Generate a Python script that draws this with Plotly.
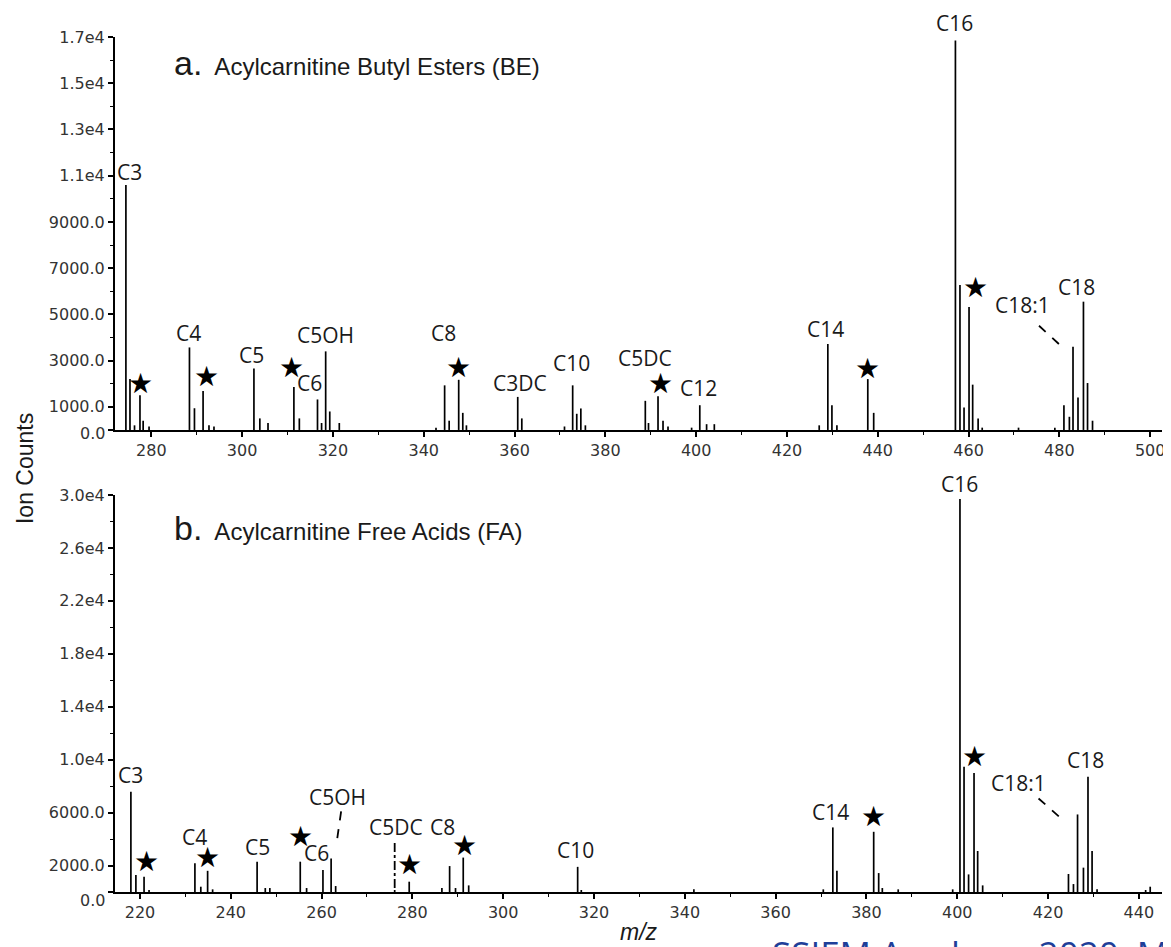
import plotly.graph_objects as go

# ---------------- data ----------------
be_mz = [274.4, 275.3, 276.3, 277.5, 278.2, 279.5, 288.4, 289.5, 291.4, 292.7, 293.8,
         302.6, 303.9, 305.7, 311.4, 312.6, 316.6, 317.5, 318.4, 319.3, 321.4,
         342.7, 344.6, 345.6, 347.7, 348.6, 349.4, 360.7, 361.6, 371.0, 372.8, 373.7,
         374.6, 375.6, 388.8, 389.5, 391.6, 392.7, 393.8, 399.0, 400.8, 402.3, 404.0,
         427.1, 429.0, 429.9, 431.0, 437.8, 439.1, 457.1, 458.1, 459.0, 460.1, 460.9,
         462.1, 463.0, 471.0, 479.0, 481.0, 482.2, 483.0, 484.1, 485.3, 486.2, 487.3]
be_int = [10600, 2200, 200, 1500, 400, 150, 3570, 940, 1690, 200, 150,
          2660, 500, 300, 1860, 500, 1320, 300, 3400, 800, 300,
          100, 1930, 400, 2170, 740, 200, 1430, 500, 150, 1930, 700,
          930, 200, 1260, 300, 1460, 400, 150, 100, 1070, 250, 250,
          200, 3720, 1070, 200, 2200, 740, 16850, 6270, 970, 5320, 1960,
          500, 100, 100, 100, 1070, 570, 3600, 1400, 5550, 2030, 400]

fa_mz = [218.0, 219.1, 220.9, 222.0, 232.1, 233.4, 234.9, 236.0, 245.8, 247.6, 248.6,
         255.3, 256.7, 260.3, 262.1, 263.1, 276.1, 279.3, 286.5, 288.2, 289.5, 291.2,
         292.4, 316.4, 317.2, 342.0, 370.5, 372.6, 373.5, 381.6, 382.7, 383.5, 387.0,
         399.0, 400.6, 401.5, 402.5, 403.7, 404.5, 405.6, 424.5, 425.6, 426.5, 427.8,
         428.8, 429.7, 430.8, 441.5, 442.5]
fa_int = [7570, 1280, 1160, 150, 2170, 400, 1600, 200, 2290, 300, 300,
          2290, 300, 1660, 2540, 450, 150, 780, 300, 1960, 300, 2600,
          500, 1900, 150, 200, 200, 4880, 1600, 4550, 1430, 300, 200,
          200, 29700, 9460, 1330, 9000, 3100, 500, 1360, 600, 5860, 1840,
          8700, 3100, 200, 150, 400]

be_labels = ["C3", "C4", "C5", "C6", "C5OH", "C8", "C3DC", "C10", "C5DC", "C12",
             "C14", "C16", "C18:1", "C18"]
be_label_mz = [274.4, 288.4, 302.6, 316.6, 318.4, 344.6, 360.7, 372.8, 388.8, 400.8,
               429.0, 457.1, 483.0, 485.3]
be_star_mz = [277.5, 291.4, 311.4, 347.7, 391.6, 437.8, 460.1]

fa_labels = ["C3", "C4", "C5", "C6", "C5OH", "C5DC", "C8", "C10", "C14", "C16",
             "C18:1", "C18"]
fa_label_mz = [218.0, 232.1, 245.8, 260.3, 262.1, 276.1, 288.2, 316.4, 372.6, 400.6,
               426.5, 428.8]
fa_star_mz = [220.9, 234.9, 255.3, 279.3, 291.2, 381.6, 403.7]

be_ticks = [0, 1000, 3000, 5000, 7000, 9000, 11000, 13000, 15000, 17000]
be_ticktext = ["", "1000.0", "3000.0", "5000.0", "7000.0", "9000.0",
               "1.1e4", "1.3e4", "1.5e4", "1.7e4"]
fa_ticks = [0, 2000, 6000, 10000, 14000, 18000, 22000, 26000, 30000]
fa_ticktext = ["", "2000.0", "6000.0", "1.0e4", "1.4e4", "1.8e4",
               "2.2e4", "2.6e4", "3.0e4"]

# ---------------- layout (pixel offsets, styles) ----------------
be_label_off = [(4, 13), (-1, 14), (-2, 13), (-8, 16), (0, 16), (-1, 52), (2, 14),
                (-1, 22), (0, 43), (-1, 17), (-2, 15), (-1, 17), (-51, 42), (-7, 15)]
be_star_off = [(1, 12), (3, 14), (-2, 19), (0, 12), (2, 13), (0, 11), (6, 19)]
fa_label_off = [(0, 17), (0, 26), (0, 15), (-6, 17), (6, 61), (1, 63), (-7, 39),
                (-2, 17), (-2, 15), (0, 15), (-59, 31), (-2, 17)]
fa_star_off = [(2, 15), (0, 13), (0, 25), (0, 17), (1, 12), (0, 15), (0, 16)]

LABEL_FONT = dict(family="Open Sans", size=21, color="#1a1a1a")
TICK_FONT = dict(family="DejaVu Sans", size=16, color="#333333")
STAR_FONT = dict(family="DejaVu Sans", size=28, color="black")


def sticks(mz, inten):
    xs, ys = [], []
    for m, v in zip(mz, inten):
        xs += [m, m, None]
        ys += [0, v, None]
    return xs, ys


fig = go.Figure()
x1, y1 = sticks(be_mz, be_int)
fig.add_trace(go.Scatter(x=x1, y=y1, mode="lines", line=dict(color="black", width=1.7),
                         xaxis="x", yaxis="y", showlegend=False, hoverinfo="skip"))
x2, y2 = sticks(fa_mz, fa_int)
fig.add_trace(go.Scatter(x=x2, y=y2, mode="lines", line=dict(color="black", width=1.7),
                         xaxis="x2", yaxis="y2", showlegend=False, hoverinfo="skip"))

ann = []


def peak_val(mz_list, int_list, m):
    return int_list[mz_list.index(m)]


for lab, m, (dx, dy) in zip(be_labels, be_label_mz, be_label_off):
    ann.append(dict(x=m, y=peak_val(be_mz, be_int, m), xref="x", yref="y", text=lab,
                    showarrow=False, xshift=dx, yshift=dy, font=LABEL_FONT,
                    xanchor="center", yanchor="middle"))
for m, (dx, dy) in zip(be_star_mz, be_star_off):
    ann.append(dict(x=m, y=peak_val(be_mz, be_int, m), xref="x", yref="y", text="★",
                    showarrow=False, xshift=dx, yshift=dy, font=STAR_FONT,
                    xanchor="center", yanchor="middle"))
for lab, m, (dx, dy) in zip(fa_labels, fa_label_mz, fa_label_off):
    ann.append(dict(x=m, y=peak_val(fa_mz, fa_int, m), xref="x2", yref="y2", text=lab,
                    showarrow=False, xshift=dx, yshift=dy, font=LABEL_FONT,
                    xanchor="center", yanchor="middle"))
for m, (dx, dy) in zip(fa_star_mz, fa_star_off):
    ann.append(dict(x=m, y=peak_val(fa_mz, fa_int, m), xref="x2", yref="y2", text="★",
                    showarrow=False, xshift=dx, yshift=dy, font=STAR_FONT,
                    xanchor="center", yanchor="middle"))

# zero labels (drawn slightly below the baseline, as in the original)
ann.append(dict(x=0, y=0, xref="paper", yref="y", text="0.0", showarrow=False,
                xanchor="right", yanchor="middle", xshift=-8, yshift=-4, font=TICK_FONT))
ann.append(dict(x=0, y=0, xref="paper", yref="y2", text="0.0", showarrow=False,
                xanchor="right", yanchor="middle", xshift=-8, yshift=-8, font=TICK_FONT))

# panel titles
ann.append(dict(x=0.054, y=0.935, xref="paper", yref="y domain",
                text='<span style="font-size:34px">a.</span>&nbsp; Acylcarnitine Butyl Esters (BE)',
                showarrow=False, xanchor="left", yanchor="middle",
                font=dict(family="Liberation Sans", size=24, color="#1a1a1a")))
ann.append(dict(x=0.054, y=0.917, xref="paper", yref="y2 domain",
                text='<span style="font-size:34px">b.</span>&nbsp; Acylcarnitine Free Acids (FA)',
                showarrow=False, xanchor="left", yanchor="middle",
                font=dict(family="Liberation Sans", size=24, color="#1a1a1a")))
# axis titles
ann.append(dict(x=-0.0857, y=0.495, xref="paper", yref="paper", text="Ion Counts",
                textangle=-90, showarrow=False, xanchor="center", yanchor="middle",
                font=dict(family="Liberation Sans", size=23, color="#1a1a1a")))
ann.append(dict(x=0.5, y=-0.047, xref="paper", yref="paper", text="<i>m/z</i>",
                showarrow=False, xanchor="center", yanchor="middle",
                font=dict(family="Liberation Sans", size=23, color="#1a1a1a")))
# watermark at bottom edge (cut off in the original)
ann.append(dict(x=0.626, y=-0.0425, xref="paper", yref="paper", text="SSIEM Academy 2020, M",
                showarrow=False, xanchor="left", yanchor="top",
                font=dict(family="Open Sans", size=35, color="#1f3f99")))

# dashed leader lines, anchored to peaks, offsets in pixels
shapes = []


def leader(xr, yr, m, v, x0, y0, x1_, y1_, dash="dash"):
    return dict(type="line", xref=xr, yref=yr, xsizemode="pixel", ysizemode="pixel",
                xanchor=m, yanchor=v, x0=x0, y0=y0, x1=x1_, y1=y1_,
                line=dict(color="black", width=1.8, dash=dash))


shapes.append(leader("x", "y", 483.0, peak_val(be_mz, be_int, 483.0), -34, 21, -9, -2))
shapes.append(leader("x2", "y2", 426.5, peak_val(fa_mz, fa_int, 426.5), -39, 16, -13, -7))
shapes.append(leader("x2", "y2", 262.1, peak_val(fa_mz, fa_int, 262.1), 10, 47, 5, 12))
shapes.append(leader("x2", "y2", 276.1, peak_val(fa_mz, fa_int, 276.1), 0, 47, 0, 0, "dashdot"))

axis_common = dict(showline=True, linecolor="black", linewidth=2, ticks="outside",
                   ticklen=5, tickwidth=1.5, tickcolor="black", tickfont=TICK_FONT,
                   showgrid=False, zeroline=False, ticklabeloverflow="allow")

# the page body adds an 8px margin, so the figure is 8px smaller and shifted
fig.update_layout(
    width=1163, height=939,
    margin=dict(l=107, r=6, t=29, b=55),
    paper_bgcolor="white", plot_bgcolor="white",
    showlegend=False,
    xaxis=dict(domain=[0, 1], anchor="y", range=[272, 502.6], tickmode="linear",
               tick0=280, dtick=20,
               minor=dict(tickmode="linear", tick0=270, dtick=10, ticklen=3,
                          tickcolor="black", tickwidth=1.2, ticks="outside"),
               **axis_common),
    yaxis=dict(domain=[0.5404, 1], anchor="x", range=[0, 17000], tickmode="array",
               tickvals=be_ticks, ticktext=be_ticktext,
               minor=dict(tickmode="linear", tick0=0, dtick=1000, ticklen=3,
                          tickcolor="black", tickwidth=1.2, ticks="outside"),
               **axis_common),
    xaxis2=dict(domain=[0, 1], anchor="y2", range=[214.5, 445.1], tickmode="linear",
                tick0=220, dtick=20,
                minor=dict(tickmode="linear", tick0=210, dtick=10, ticklen=3,
                           tickcolor="black", tickwidth=1.2, ticks="outside"),
                **axis_common),
    yaxis2=dict(domain=[0, 0.4643], anchor="x2", range=[0, 30000], tickmode="array",
                tickvals=fa_ticks, ticktext=fa_ticktext,
                minor=dict(tickmode="linear", tick0=0, dtick=2000, ticklen=3,
                           tickcolor="black", tickwidth=1.2, ticks="outside"),
                **axis_common),
    annotations=ann,
    shapes=shapes,
)

fig.write_html("out.html")
